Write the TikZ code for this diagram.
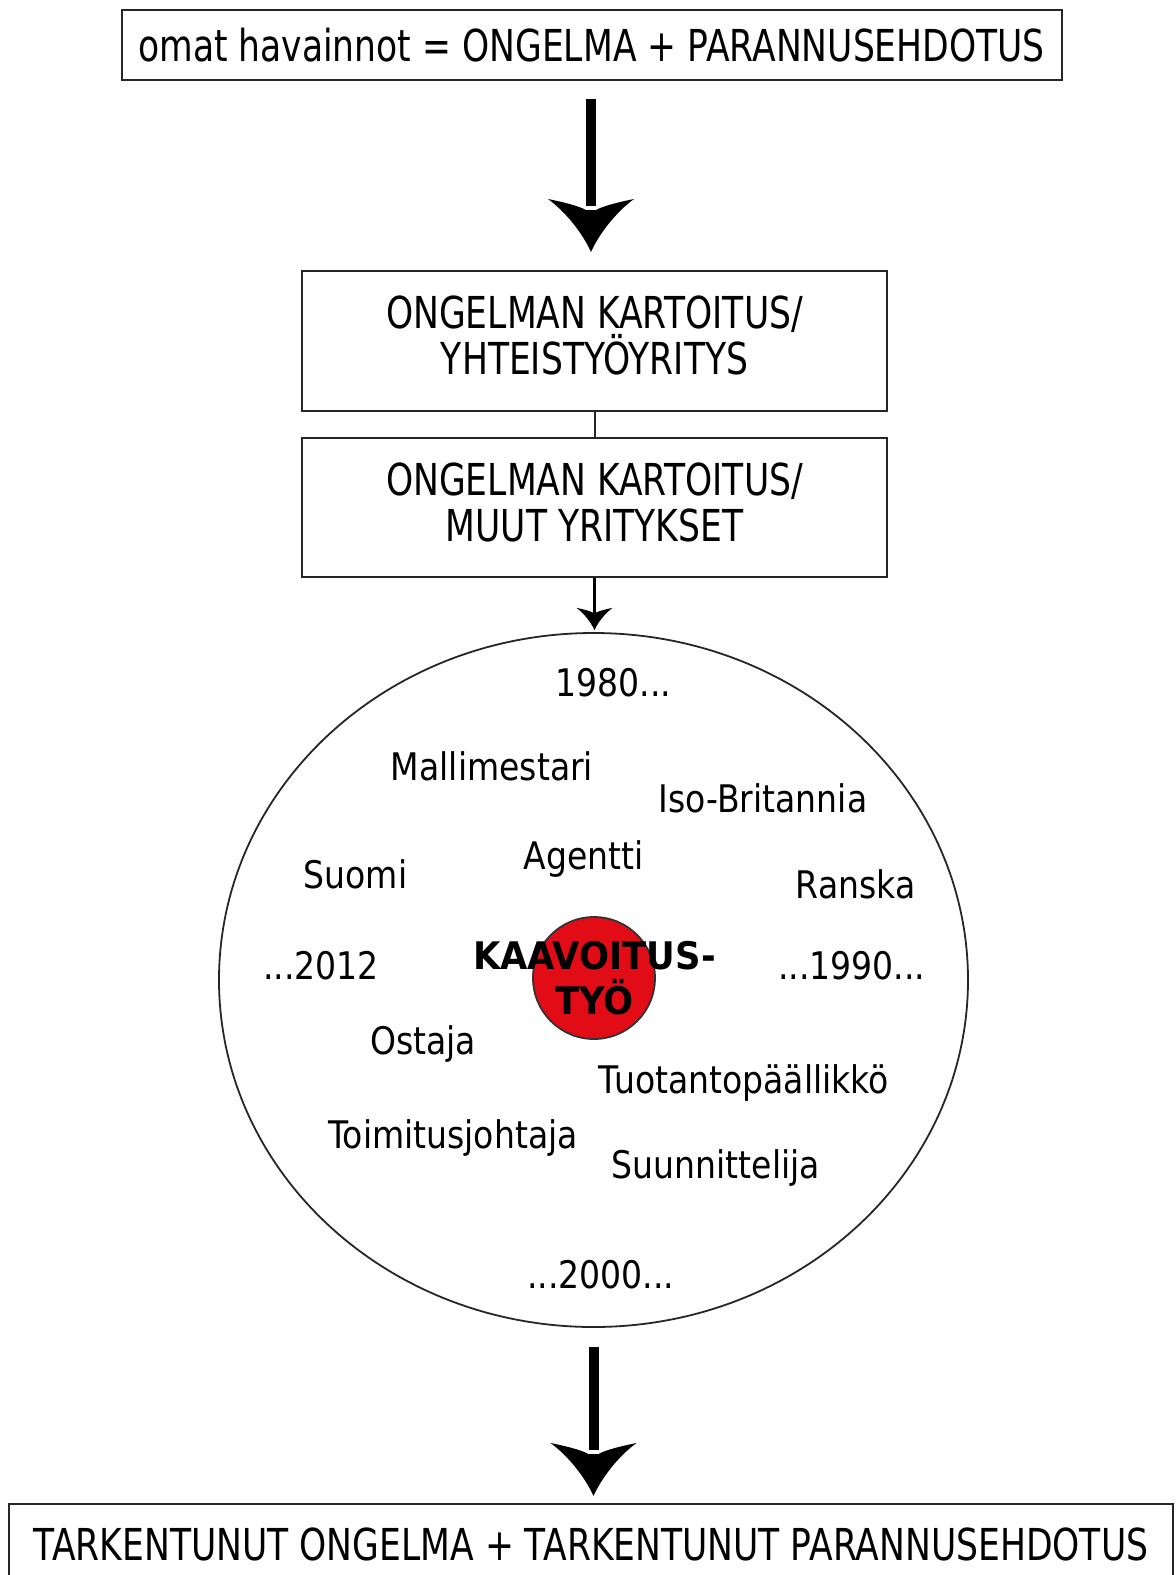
\documentclass[tikz,border=0pt]{standalone}
\usepackage{fontspec}
\setmainfont{DejaVu Sans}
\newfontfamily\boxfont[FakeStretch=0.785]{DejaVu Sans}
\newfontfamily\circfont[FakeStretch=0.87]{DejaVu Sans}
\newfontfamily\kfont[FakeStretch=0.93]{DejaVu Sans}
\usetikzlibrary{calc,shapes.geometric}
\definecolor{kred}{RGB}{226,12,22}
\newcommand\myhead[2]{% coordinate, scale
  \fill[shift={(#1)},scale=#2] (0,0) .. controls (-8,-18) and (-25,-40) .. (-43,-53)
     .. controls (-28,-50) and (-12,-46) .. (-5,-42) -- (5,-42)
     .. controls (12,-46) and (28,-50) .. (43,-53)
     .. controls (25,-40) and (8,-18) .. (0,0) -- cycle;}
\tikzset{
  flowbox/.style={draw=black!85, line width=1pt, inner sep=0pt, align=center,
     font=\boxfont\fontsize{22pt}{23pt}\selectfont},
  ctext/.style={inner sep=0pt, font=\circfont\fontsize{19pt}{21pt}\selectfont},
  shaft/.style={line width=5pt},
  thin shaft/.style={line width=1.5pt},
}
\begin{document}
\begin{tikzpicture}[x=0.5pt,y=-0.5pt]
\useasboundingbox (0,0) rectangle (1175,1575);
\node[flowbox, minimum width=470pt, minimum height=35pt] (top) at (591.5,45)
  {omat havainnot = ONGELMA + PARANNUSEHDOTUS};
\node[flowbox, minimum width=292.5pt, minimum height=70pt] (b2) at (594.5,341)
  {ONGELMAN KARTOITUS/\\ YHTEISTYÖYRITYS\rule[-5.5pt]{0pt}{1pt}};
\node[flowbox, minimum width=292.5pt, minimum height=69.5pt] (b3) at (594.5,507.5)
  {ONGELMAN KARTOITUS/\\ MUUT YRITYKSET\rule[-5.5pt]{0pt}{1pt}};
\draw[line width=1pt, draw=black!85] (b2.south) -- (b3.north);
\node[draw=black!85, line width=0.9pt, ellipse, minimum width=374.5pt, minimum height=347pt, inner sep=0pt] (ell) at (593.5,980) {};
\node[draw=black!80, line width=0.9pt, fill=kred, circle, minimum size=61pt, inner sep=0pt] (red) at (594,978) {};
\node[flowbox, minimum width=582pt, minimum height=40pt, anchor=north] (bot) at (591,1503)
  {TARKENTUNUT ONGELMA + TARKENTUNUT PARANNUSEHDOTUS};
% arrows
\coordinate (t1) at ($(b2.north)+(-3.5,-18)$);
\coordinate (s1) at ($(top.south)+(0,18)$);
\draw[shaft] (s1 -| t1) -- ($(t1)+(0,-46)$);
\myhead{t1}{1}
\coordinate (t2) at ($(b3.south |- ell.north)+(0,-2)$);
\draw[thin shaft] (b3.south) -- ($(t2)+(0,-14)$);
\myhead{t2}{0.42}
\coordinate (t3) at ($(bot.north)+(2.5,-7)$);
\coordinate (s3) at ($(ell.south)+(0,19)$);
\draw[shaft] (s3 -| t3) -- ($(t3)+(0,-46)$);
\myhead{t3}{1}
% circle texts
\node[ctext] (n1980) at (613.6,683) {1980...};
\node[ctext] (nmal) at (492,766) {Mallimestari};
\node[ctext] (niso) at (763,798) {Iso-Britannia};
\node[ctext] (nsuo) at (355.5,874) {Suomi};
\node[ctext] (nage) at (583.5,859) {Agentti};
\node[ctext] (nran) at (855.7,884) {Ranska};
\node[ctext] (n2012) at (321,966) {...2012};
\node[ctext] (n1990) at (851.6,966) {...1990...};
\node[ctext] (nost) at (423,1044) {Ostaja};
\node[ctext] (ntuo) at (744,1083) {Tuotantopäällikkö};
\node[ctext] (ntoi) at (453,1138) {Toimitusjohtaja};
\node[ctext] (nsuu) at (716,1168) {Suunnittelija};
\node[ctext] (n2000) at (600.6,1275) {...2000...};
\node[inner sep=0pt, align=center, font=\kfont\bfseries\fontsize{19pt}{22.5pt}\selectfont] (kaav) at (594.5,978)
  {KAAVOITUS-\\TYÖ};
\end{tikzpicture}
\end{document}
